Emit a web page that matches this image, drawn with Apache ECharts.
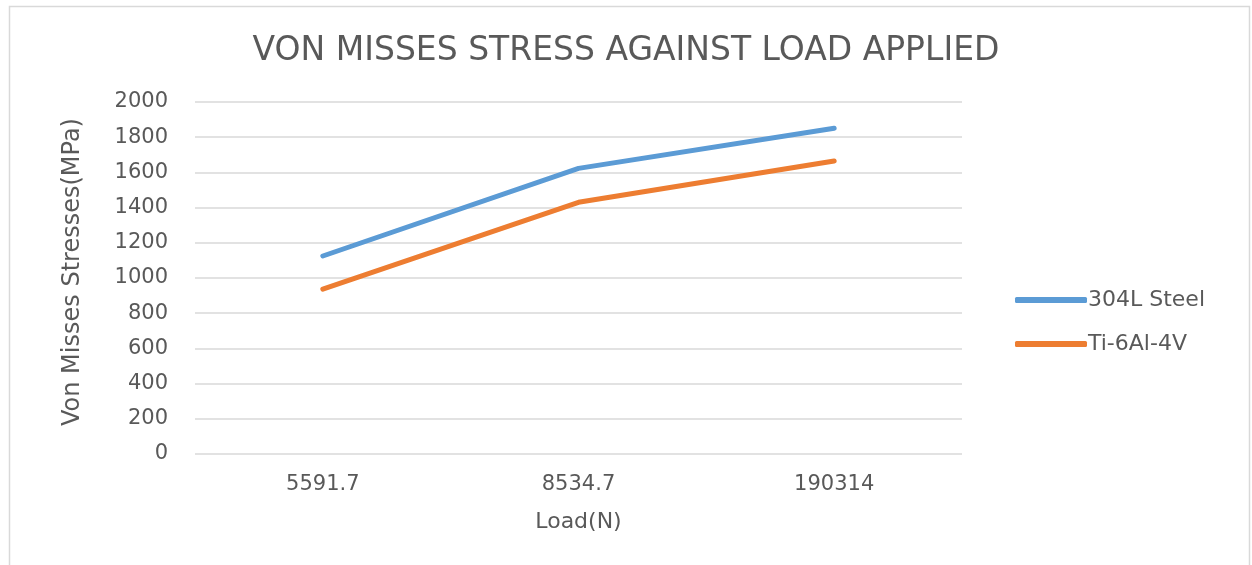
<!DOCTYPE html>
<html>
<head>
<meta charset="utf-8">
<script src="https://cdn.jsdelivr.net/npm/echarts@6/dist/echarts.min.js"></script>
<style>
html,body{margin:0;padding:0;background:#fff;}
#c{width:1252px;height:565px;}
</style>
</head>
<body>
<div id="c"></div>
<script>
const categories = ['5591.7', '8534.7', '190314'];
const steel = [1125, 1623, 1851];
const titanium = [937, 1430, 1665];
const seriesNames = ['304L Steel', 'Ti-6Al-4V'];
const titleText = 'VON MISSES STRESS AGAINST LOAD APPLIED';
const xName = 'Load(N)';
const yName = 'Von Misses Stresses(MPa)';

const FONT = '"DejaVu Sans", "Open Sans", sans-serif';
const chart = echarts.init(document.getElementById('c'), null, {renderer: 'canvas'});
chart.setOption({
  backgroundColor: '#fff',
  animation: false,
  graphic: [{
    type: 'rect', left: 7, top: 4, shape: {width: 1240, height: 570},
    style: {fill: 'none', stroke: '#d9d9d9', lineWidth: 1.5}, silent: true
  }],
  title: {
    text: titleText, left: 'center', top: 30,
    textStyle: {fontFamily: FONT, fontSize: 33, fontWeight: 'normal', color: '#595959'}
  },
  grid: {left: 195, right: 290, top: 102, bottom: 111, containLabel: false},
  legend: {
    orient: 'vertical', left: 1010, top: 283, itemGap: 20,
    itemWidth: 72, itemHeight: 6,
    icon: 'roundRect',
    data: seriesNames,
    textStyle: {fontFamily: FONT, fontSize: 22, color: '#595959', lineHeight: 24, padding: [0,0,0,-4]}
  },
  xAxis: {
    type: 'category', data: categories, boundaryGap: true,
    name: xName, nameLocation: 'middle', nameGap: 57,
    nameTextStyle: {fontFamily: FONT, fontSize: 22, color: '#595959'},
    axisLine: {show: false}, axisTick: {show: false},
    axisLabel: {fontFamily: FONT, fontSize: 21, color: '#595959', margin: 20}
  },
  yAxis: {
    type: 'value', min: 0, max: 2000, interval: 200,
    name: yName, nameLocation: 'middle', nameGap: 110, nameRotate: 90,
    nameTextStyle: {fontFamily: FONT, fontSize: 24, color: '#595959', padding: [0, 0, 0, 12]},
    axisLine: {show: false}, axisTick: {show: false},
    axisLabel: {fontFamily: FONT, fontSize: 21, color: '#595959', margin: 27,
                formatter: function (v) { return String(v); }},
    splitLine: {lineStyle: {color: '#d9d9d9', width: 1.5}}
  },
  series: [
    {name: seriesNames[0], type: 'line', data: steel, showSymbol: false, symbol: 'none',
     lineStyle: {color: '#5B9BD5', width: 5, cap: 'round'}, itemStyle: {color: '#5B9BD5'}},
    {name: seriesNames[1], type: 'line', data: titanium, showSymbol: false, symbol: 'none',
     lineStyle: {color: '#ED7D31', width: 5, cap: 'round'}, itemStyle: {color: '#ED7D31'}}
  ]
});
</script>
</body>
</html>
